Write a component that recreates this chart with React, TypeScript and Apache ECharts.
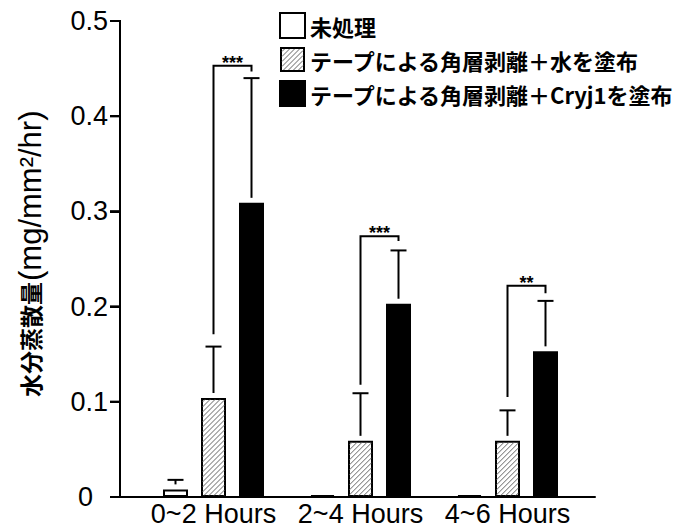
import React, { useEffect, useRef } from 'react';
import * as echarts from 'echarts';

const categories = ['0~2 Hours', '2~4 Hours', '4~6 Hours'];
const seriesNames = ['未処理', 'テープによる角層剥離＋水を塗布', 'テープによる角層剥離＋Cryj1を塗布'];
const untreated = [0.008, 0.002, 0.002];
const water = [0.104, 0.059, 0.059];
const cryj1 = [0.309, 0.203, 0.153];
const untreatedErrTop: (number | null)[] = [0.018, null, null];
const waterErrTop = [0.158, 0.109, 0.091];
const cryj1ErrTop = [0.44, 0.259, 0.206];
const bracketTop = [0.453, 0.274, 0.222];
const bracketLeftEnd = [0.171, 0.118, 0.105];
const bracketRightEnd = [0.447, 0.269, 0.214];
const stars = ['***', '***', '**'];
const yTicks = [0, 0.1, 0.2, 0.3, 0.4, 0.5];
const yTickLabels = ['0\u00a0\u00a0', '0.1', '0.2', '0.3', '0.4', '0.5'];
const yAxisTitle = '水分蒸散量';
const yAxisUnit = '(mg/mm²/hr)';

const BAR_W = 25;
const BAR_GAP = 13;
const STEP = BAR_W + BAR_GAP;
const HATCH_STEP = 5;
const Y_OFFSET = 20;
const X_EXTRA = 14;
const TICK_LEN = 10;
const TITLE_CJK_SIZE = 23;
const TITLE_LATIN_SIZE = 31;
const LATIN = 'Liberation Sans, Arial, sans-serif';
const CJK = 'Noto Sans CJK JP, sans-serif';
const AXIS_LINE = { color: '#000', width: 2 };

function hatchSegments(x0: number, y0: number, x1: number, y1: number, step: number) {
  const segs: number[][] = [];
  for (let k = x0 + y0 + step / 2; k < x1 + y1; k += step) {
    const xa = Math.max(x0, k - y1);
    const xb = Math.min(x1, k - y0);
    if (xb > xa) segs.push([xa, k - xa, xb, k - xb]);
  }
  return segs;
}

function hatchIcon() {
  const s = 25;
  const lines = hatchSegments(2, 2, s - 2, s - 2, HATCH_STEP)
    .map((g) => `<line x1="${g[0]}" y1="${g[1]}" x2="${g[2]}" y2="${g[3]}" stroke="#666" stroke-width="1"/>`)
    .join('');
  const svg = `<svg xmlns="http://www.w3.org/2000/svg" width="${s}" height="${s}" viewBox="0 0 ${s} ${s}"><rect x="1" y="1" width="${s - 2}" height="${s - 2}" fill="#fff" stroke="#000" stroke-width="2"/>${lines}</svg>`;
  return 'image://data:image/svg+xml;charset=utf-8,' + encodeURIComponent(svg);
}

export default function App() {
  const ref = useRef<HTMLDivElement>(null);
  useEffect(() => {
    if (!ref.current) return;
    const chart = echarts.init(ref.current, null, { renderer: 'svg' });

    const means = [untreated, water, cryj1];
    const tops = [untreatedErrTop, waterErrTop, cryj1ErrTop];
    const errData: number[][] = [];
    for (let s = 0; s < 3; s++) {
      for (let c = 0; c < categories.length; c++) {
        const t = tops[s][c];
        if (t != null) errData.push([c, s, means[s][c], t]);
      }
    }
    const bracketData = categories.map((_, c) => [c, bracketTop[c], bracketLeftEnd[c], bracketRightEnd[c]]);
    const hatchData = water.map((v, c) => [c, v]);
    const tickData = yTicks.map((v) => [0, v]);

    const barCommon = {
      type: 'bar',
      xAxisIndex: 1,
      yAxisIndex: 1,
      barWidth: BAR_W,
      barGap: `${(BAR_GAP / BAR_W) * 100}%`,
      clip: false,
    };

    const titleBottom = 397;
    const titleGraphics: any[] = [
      {
        id: 'titleCjk',
        type: 'text',
        x: 30,
        y: titleBottom,
        rotation: Math.PI / 2,
        style: {
          text: yAxisTitle,
          align: 'left',
          verticalAlign: 'middle',
          fontSize: TITLE_CJK_SIZE,
          fontWeight: 'bold',
          fontFamily: CJK,
          fill: '#000',
        },
      },
      {
        id: 'titleLatin',
        type: 'text',
        x: 30,
        y: titleBottom - yAxisTitle.length * TITLE_CJK_SIZE - 1,
        rotation: Math.PI / 2,
        style: {
          text: yAxisUnit,
          align: 'left',
          verticalAlign: 'middle',
          fontSize: TITLE_LATIN_SIZE,
          fontFamily: LATIN,
          fill: '#000',
        },
      },
    ];

    const option: any = {
      animation: false,
      grid: [
        { left: 140 - Y_OFFSET, right: 107 - X_EXTRA, top: 21, bottom: 33, containLabel: false, outerBoundsMode: 'none' },
        { left: 140, right: 107, top: 21, bottom: 33, containLabel: false, outerBoundsMode: 'none' },
      ],
      legend: {
        data: [{ name: seriesNames[0] }, { name: seriesNames[1], icon: hatchIcon() }, { name: seriesNames[2] }],
        orient: 'vertical',
        left: 274,
        top: 7,
        itemWidth: 25,
        itemHeight: 25,
        itemGap: 8,
        icon: 'rect',
        textStyle: { fontSize: 22, fontWeight: 'bold', color: '#000', fontFamily: CJK },
      },
      xAxis: [
        {
          gridIndex: 0,
          type: 'value',
          min: 0,
          max: 1,
          axisLine: { show: true, onZero: false, lineStyle: { color: '#000', width: 2 } },
          axisTick: { show: false },
          axisLabel: { show: false },
          splitLine: { show: false },
        },
        {
          gridIndex: 1,
          type: 'category',
          data: categories,
          axisLine: { show: false },
          axisTick: { show: false },
          axisLabel: {
            interval: 0,
            hideOverlap: false,
            fontSize: 27,
            color: '#000',
            fontFamily: LATIN,
            margin: 3,
          },
        },
      ],
      yAxis: [
        {
          gridIndex: 0,
          type: 'value',
          min: 0,
          max: 0.5,
          interval: 0.1,
          axisLine: { show: true, onZero: false, lineStyle: { color: '#000', width: 2 } },
          axisTick: { show: true, length: TICK_LEN, lineStyle: { color: '#000', width: 2 } },
          axisLabel: {
            fontSize: 27,
            color: '#000',
            fontFamily: LATIN,
            margin: 12,
            formatter: (v: number) => {
              const i = yTicks.findIndex((t) => Math.abs(t - v) < 1e-9);
              return yTickLabels[i];
            },
          },
          splitLine: { show: false },
        },
        {
          gridIndex: 1,
          type: 'value',
          min: 0,
          max: 0.5,
          interval: 0.1,
          show: false,
        },
      ],
      graphic: titleGraphics,
      series: [
        {
          ...barCommon,
          name: seriesNames[0],
          data: untreated,
          itemStyle: { color: '#fff', borderColor: '#000', borderWidth: 2 },
        },
        {
          ...barCommon,
          name: seriesNames[1],
          data: water,
          itemStyle: { color: '#fff', borderColor: '#000', borderWidth: 2 },
        },
        {
          ...barCommon,
          name: seriesNames[2],
          data: cryj1,
          itemStyle: { color: '#000', borderColor: '#000', borderWidth: 2 },
        },
        {
          // y axis line as a plain line series on the axis grid
          type: 'line',
          name: 'yAxisLine',
          xAxisIndex: 0,
          yAxisIndex: 0,
          data: [[0, yTicks[0]], [0, yTicks[yTicks.length - 1]]],
          symbol: 'none',
          clip: false,
          silent: true,
          z: 6,
          lineStyle: { color: '#000', width: 2 },
        },
        {
          // y ticks and axis line, through the axis grid's scales
          type: 'custom',
          name: 'yAxisTicks',
          xAxisIndex: 0,
          yAxisIndex: 0,
          data: tickData,
          encode: { x: 0, y: 1 },
          clip: false,
          silent: true,
          z: 6,
          renderItem: (params: any, api: any) => {
            const p = api.coord([api.value(0), api.value(1)]);
            const children: any[] = [
              { type: 'rect', shape: { x: p[0] - TICK_LEN, y: p[1] - 1, width: TICK_LEN, height: 2 }, style: { fill: '#000' } },
            ];
            if (params.dataIndex === 0) {
              const t = api.coord([0, yTicks[yTicks.length - 1]]);
              children.push({ type: 'rect', shape: { x: p[0] - 1, y: t[1] - 1, width: 2, height: p[1] - t[1] + 2 }, style: { fill: '#000' } });
            }
            return { type: 'group', children };
          },
        },
        {
          type: 'custom',
          name: 'hatch',
          xAxisIndex: 1,
          yAxisIndex: 1,
          data: hatchData,
          encode: { x: 0, y: 1 },
          clip: false,
          z: 3,
          renderItem: (params: any, api: any) => {
            const c = api.value(0);
            const top = api.coord([c, api.value(1)]);
            const base = api.coord([c, 0]);
            const x0 = top[0] - BAR_W / 2 + 1.5;
            const x1 = top[0] + BAR_W / 2 - 1.5;
            const y0 = top[1] + 1.5;
            const y1 = base[1] - 1.5;
            return {
              type: 'group',
              children: hatchSegments(x0, y0, x1, y1, HATCH_STEP).map((g) => ({
                type: 'line',
                shape: { x1: g[0], y1: g[1], x2: g[2], y2: g[3] },
                style: { stroke: '#666', lineWidth: 1 },
              })),
            };
          },
        },
        {
          type: 'custom',
          name: 'err',
          xAxisIndex: 1,
          yAxisIndex: 1,
          data: errData,
          encode: { x: 0, y: 3 },
          clip: false,
          z: 5,
          renderItem: (params: any, api: any) => {
            const c = api.value(0);
            const s = api.value(1);
            const base = api.coord([c, api.value(2)]);
            const top = api.coord([c, api.value(3)]);
            const x = base[0] + (s - 1) * STEP;
            const y0 = base[1] - 5;
            const y1 = top[1];
            return {
              type: 'group',
              children: [
                { type: 'line', shape: { x1: x, y1: y0, x2: x, y2: y1 }, style: { stroke: '#000', lineWidth: 2 } },
                { type: 'line', shape: { x1: x - 8, y1: y1, x2: x + 8, y2: y1 }, style: { stroke: '#000', lineWidth: 2 } },
              ],
            };
          },
        },
        {
          type: 'custom',
          name: 'sig',
          xAxisIndex: 1,
          yAxisIndex: 1,
          data: bracketData,
          encode: { x: 0, y: 1 },
          clip: false,
          z: 5,
          renderItem: (params: any, api: any) => {
            const c = api.value(0);
            const pTop = api.coord([c, api.value(1)]);
            const pL = api.coord([c, api.value(2)]);
            const pR = api.coord([c, api.value(3)]);
            const xl = pTop[0];
            const xr = pTop[0] + STEP;
            const yt = pTop[1];
            return {
              type: 'group',
              children: [
                {
                  type: 'polyline',
                  shape: { points: [[xl, pL[1]], [xl, yt], [xr, yt], [xr, pR[1]]] },
                  style: { stroke: '#000', lineWidth: 2, fill: 'none' },
                },
                {
                  type: 'text',
                  x: (xl + xr) / 2,
                  y: yt - 3,
                  style: {
                    text: stars[params.dataIndex],
                    align: 'center',
                    verticalAlign: 'middle',
                    fontSize: 18,
                    fontWeight: 'bold',
                    fontFamily: LATIN,
                    fill: '#000',
                  },
                },
              ],
            };
          },
        },
      ],
    };
    chart.setOption(option);

    // extra safety: y axis line and ticks as filled rects placed through the axis grid's scale
    const gp = (v: number) => chart.convertToPixel({ gridIndex: 0 }, [0, v]) as number[];
    const pBase = gp(yTicks[0]);
    const pTopTick = gp(yTicks[yTicks.length - 1]);
    if (pBase && pTopTick && isFinite(pBase[0]) && isFinite(pTopTick[1])) {
      const extra: any[] = [
        {
          id: 'yAxisRect',
          type: 'rect',
          z: 50,
          shape: { x: pBase[0] - 1, y: pTopTick[1] - 1, width: 2, height: pBase[1] - pTopTick[1] + 2 },
          style: { fill: '#000' },
        },
        ...yTicks.map((v, i) => {
          const p = gp(v);
          return {
            id: 'yTickRect' + i,
            type: 'rect',
            z: 50,
            shape: { x: p[0] - TICK_LEN, y: p[1] - 1, width: TICK_LEN, height: 2 },
            style: { fill: '#000' },
          };
        }),
      ];
      chart.setOption({ graphic: [...titleGraphics, ...extra] });
    }
    return () => chart.dispose();
  }, []);
  return (
    <div
      ref={ref}
      style={{ position: 'absolute', left: 0, top: 0, width: 688, height: 530, background: '#fff' }}
    />
  );
}
